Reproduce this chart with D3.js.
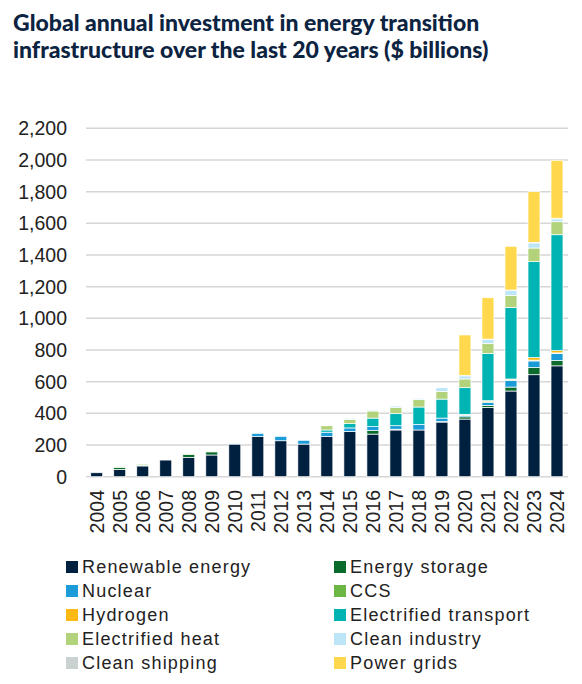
<!DOCTYPE html>
<meta charset="utf-8">
<head>
  <meta charset="utf-8">
  <script src="https://d3js.org/d3.v7.min.js"></script>
  <style>
    body { margin: 0; background: #fff; }
    svg { display: block; }
  </style>
</head>
<body>
  <svg width="582" height="684"></svg>
  <script>
    // values, $ billions, 2004-2024
    var years = ["2004","2005","2006","2007","2008","2009","2010","2011","2012","2013","2014",
                 "2015","2016","2017","2018","2019","2020","2021","2022","2023","2024"];
    var renewable = [25, 46, 68, 105, 122, 137, 206, 253, 227, 206, 253, 286, 269, 295, 295, 345, 364, 438, 541, 644, 700];
    var storage   = [0, 13, 5, 0, 18, 20, 0, 0, 0, 0, 0, 0, 22, 5, 0, 3, 14, 12, 25, 45, 33];
    var nuclear   = [0, 0, 0, 0, 0, 0, 4, 22, 29, 25, 28, 22, 25, 22, 35, 22, 8, 20, 42, 42, 44];
    var ccs       = [0, 3, 6, 0, 4, 5, 0, 0, 0, 0, 0, 0, 0, 0, 0, 0, 4, 4, 3, 5, 5];
    var hydrogen  = [0, 0, 0, 0, 0, 0, 0, 0, 0, 0, 0, 0, 0, 0, 0, 0, 4, 6, 6, 16, 14];
    var transport = [0, 0, 0, 0, 0, 0, 0, 0, 0, 0, 14, 27, 54, 76, 110, 120, 168, 299, 451, 606, 732];
    var heat      = [0, 0, 0, 0, 0, 0, 0, 0, 0, 0, 27, 27, 45, 38, 48, 49, 55, 61, 77, 86, 82];
    var industry  = [0, 0, 0, 0, 0, 0, 5, 3, 3, 3, 4, 6, 6, 10, 7, 23, 20, 26, 30, 32, 18];
    var shipping  = [0, 0, 0, 0, 0, 0, 0, 0, 0, 0, 0, 0, 0, 0, 0, 2, 3, 3, 4, 4, 4];
    var grids     = [0, 0, 0, 0, 0, 0, 0, 0, 0, 0, 0, 0, 0, 0, 0, 0, 255, 261, 276, 320, 366];

    var seriesNames = ["Renewable energy","Energy storage","Nuclear","CCS","Hydrogen",
                       "Electrified transport","Electrified heat","Clean industry","Clean shipping","Power grids"];
    var seriesValues = [renewable, storage, nuclear, ccs, hydrogen, transport, heat, industry, shipping, grids];
    var colours = ["#00203f","#0b6b2d","#1b9bd7","#6cb644","#fdb913",
                   "#00b4b4","#b2d37b","#bde5f8","#c9d1d1","#ffd84d"];
    var yTicks = [0, 200, 400, 600, 800, 1000, 1200, 1400, 1600, 1800, 2000, 2200];

    // build rows for d3.stack
    var rows = years.map(function(y, i) {
      var r = {year: y};
      seriesNames.forEach(function(n, j) { r[n] = seriesValues[j][i]; });
      return r;
    });

    var svg = d3.select("svg");
    var font = "'Liberation Sans', Arial, sans-serif";

    // title
    var title = svg.append("text")
      .attr("fill", "#0c2341")
      .style("font-family", "Lato, 'Open Sans', sans-serif")
      .style("font-weight", "900")
      .style("font-size", "23px");
    title.append("tspan").attr("x", 13).attr("y", 31).text("Global annual investment in energy transition");
    title.append("tspan").attr("x", 13).attr("y", 58).text("infrastructure over the last 20 years ($ billions)");

    var x = d3.scaleBand().domain(years).range([85.2, 568.5]).paddingInner(0.48).paddingOuter(0.24);
    var y = d3.scaleLinear().domain([0, 2200]).range([476.7, 128.3]);

    // gridlines
    svg.append("g").selectAll("line")
      .data(yTicks)
      .enter().append("line")
        .attr("x1", 86).attr("x2", 568)
        .attr("y1", function(d) { return y(d); })
        .attr("y2", function(d) { return y(d); })
        .attr("stroke", "#d6d6d6")
        .attr("stroke-width", 1.5);

    // y labels
    svg.append("g").selectAll("text")
      .data(yTicks)
      .enter().append("text")
        .attr("x", 67)
        .attr("y", function(d) { return y(d); })
        .attr("dy", "0.36em")
        .attr("text-anchor", "end")
        .attr("fill", "#222")
        .style("font-family", font)
        .style("font-size", "19.5px")
        .text(function(d) { return d3.format(",")(d); });

    // stacked bars
    var stack = d3.stack().keys(seriesNames)(rows);
    svg.append("g").selectAll("g")
      .data(stack)
      .enter().append("g")
        .attr("fill", function(d, i) { return colours[i]; })
      .selectAll("rect")
      .data(function(d) { return d; })
      .enter().append("rect")
        .filter(function(d) { return d[1] - d[0] > 0; })
        .attr("x", function(d) { return x(d.data.year); })
        .attr("width", x.bandwidth())
        .attr("y", function(d) { return y(d[1]); })
        .attr("height", function(d) { return y(d[0]) - y(d[1]); })
        .attr("stroke", "#fff")
        .attr("stroke-width", 0.7);

    // x labels, rotated
    svg.append("g").selectAll("text")
      .data(years)
      .enter().append("text")
        .attr("transform", function(d) {
          return "translate(" + (x(d) + x.bandwidth() / 2) + ",490) rotate(-90)";
        })
        .attr("dy", "0.36em")
        .attr("text-anchor", "end")
        .attr("fill", "#222")
        .style("font-family", font)
        .style("font-size", "19.5px")
        .text(function(d) { return d; });

    // legend, two columns
    var legend = svg.append("g").selectAll("g")
      .data(seriesNames)
      .enter().append("g")
        .attr("transform", function(d, i) {
          var col = i % 2, row = Math.floor(i / 2);
          return "translate(" + (col === 0 ? 66 : 334) + "," + (567 + row * 24) + ")";
        });
    legend.append("rect")
      .attr("y", -6).attr("width", 12).attr("height", 12)
      .attr("fill", function(d, i) { return colours[i]; });
    legend.append("text")
      .attr("x", 16)
      .attr("dy", "0.36em")
      .attr("fill", "#222")
      .style("font-family", font)
      .style("font-size", "18px")
      .style("letter-spacing", "1.2px")
      .text(function(d) { return d; });
  </script>
</body>
